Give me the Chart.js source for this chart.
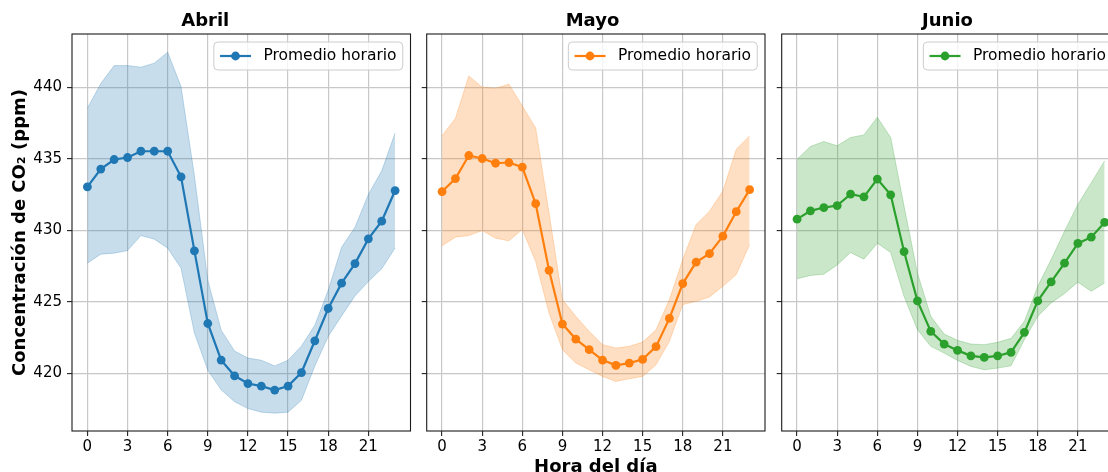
<!DOCTYPE html>
<html>
<head>
<meta charset="utf-8">
<script src="https://cdn.jsdelivr.net/npm/chart.js@4.4.1/dist/chart.umd.min.js"></script>
<style>
html,body{margin:0;padding:0;background:#fff;overflow:hidden;width:1108px;height:472px;}
#wrap{position:relative;width:1108px;height:472px;overflow:hidden;background:#fff;}
canvas{position:absolute;top:0;}
</style>
</head>
<body>
<div id="wrap">
<canvas id="c1" width="420" height="480" style="left:0px"></canvas>
<canvas id="c2" width="355" height="480" style="left:420px"></canvas>
<canvas id="c3" width="360" height="480" style="left:775px"></canvas>
</div>
<script>
// ---------- data ----------
const hours = [0,1,2,3,4,5,6,7,8,9,10,11,12,13,14,15,16,17,18,19,20,21,22,23];
const xTicks = [0,3,6,9,12,15,18,21];
const yTicks = [420,425,430,435,440];
const months = ['Abril','Mayo','Junio'];
const legendLabel = 'Promedio horario';
const xAxisTitle = 'Hora del día';
const yAxisTitle = 'Concentración de CO₂ (ppm)';

const abrilMean  = [433.03,434.27,434.94,435.08,435.52,435.52,435.52,433.73,428.55,423.47,420.91,419.81,419.27,419.09,418.81,419.09,420.04,422.26,424.52,426.29,427.66,429.39,430.63,432.77];
const abrilUpper = [438.53,440.25,441.51,441.51,441.40,441.68,442.45,440.04,433.80,426.50,423.00,421.55,421.05,420.90,420.50,420.90,421.90,423.35,425.80,428.80,430.20,432.50,434.15,436.80];
const abrilLower = [427.69,428.32,428.39,428.57,429.62,429.37,428.74,427.34,422.80,420.20,418.83,418.00,417.52,417.27,417.20,417.27,418.10,420.50,422.56,424.00,425.40,426.40,427.30,428.75];

const mayoMean  = [432.70,433.61,435.22,435.01,434.68,434.73,434.41,431.85,427.19,423.43,422.38,421.64,420.91,420.54,420.70,420.96,421.85,423.83,426.26,427.76,428.36,429.58,431.29,432.83];
const mayoUpper = [436.60,437.83,440.79,440.00,439.93,440.21,438.69,437.15,431.20,425.14,423.97,422.92,421.99,421.75,421.87,422.17,423.04,425.14,427.94,430.40,431.33,432.73,435.65,436.59];
const mayoLower = [428.90,429.51,429.62,429.97,429.44,429.25,430.05,427.80,424.20,421.64,420.70,420.23,419.77,419.42,419.60,419.77,420.58,422.22,424.79,425.02,425.33,426.07,426.89,428.99];

const junioMean  = [430.77,431.35,431.58,431.72,432.52,432.33,433.57,432.47,428.50,425.05,422.92,422.03,421.59,421.21,421.10,421.21,421.45,422.85,425.05,426.38,427.69,429.07,429.51,430.54];
const junioUpper = [434.96,435.85,436.20,435.90,436.48,436.66,437.90,436.48,431.68,427.01,423.97,422.73,422.29,422.03,421.99,422.15,422.43,423.62,426.07,427.94,429.93,431.80,433.32,434.84];
const junioLower = [426.60,426.83,426.92,427.57,428.43,427.97,429.09,428.43,425.37,423.04,421.87,421.40,420.89,420.47,420.23,420.35,420.51,422.34,423.97,424.91,425.56,426.36,425.72,426.31];

// ---------- styling ----------
Chart.defaults.font.family = "'DejaVu Sans', sans-serif";
const gridColor = '#c8c8c8';

function pts(arr){ return hours.map((h,i)=>({x:h, y:arr[i]})); }

const framePlugin = {
  id: 'frame',
  afterDatasetsDraw(chart){
    const {ctx, chartArea:a} = chart;
    ctx.save();
    ctx.strokeStyle = '#1a1a1a';
    ctx.lineWidth = 1.1;
    ctx.strokeRect(a.left, a.top, a.right - a.left, a.bottom - a.top);
    ctx.restore();
  }
};

const boxLegend = {
  id: 'boxLegend',
  afterDraw(chart){
    const ctx = chart.ctx, a = chart.chartArea;
    const ds = chart.data.datasets[2];
    const em = 15.5;
    ctx.save();
    ctx.font = em + "px 'DejaVu Sans'";
    const tw = ctx.measureText(ds.label).width;
    const W = 3.6*em + tw, H = 28;
    const x0 = a.right - 0.5*em - W, y0 = a.top + 8;
    const r = 4;
    ctx.beginPath();
    ctx.moveTo(x0+r, y0);
    ctx.lineTo(x0+W-r, y0); ctx.arcTo(x0+W, y0, x0+W, y0+r, r);
    ctx.lineTo(x0+W, y0+H-r); ctx.arcTo(x0+W, y0+H, x0+W-r, y0+H, r);
    ctx.lineTo(x0+r, y0+H); ctx.arcTo(x0, y0+H, x0, y0+H-r, r);
    ctx.lineTo(x0, y0+r); ctx.arcTo(x0, y0, x0+r, y0, r);
    ctx.closePath();
    ctx.fillStyle = 'rgba(255,255,255,0.8)'; ctx.fill();
    ctx.strokeStyle = '#cccccc'; ctx.lineWidth = 1; ctx.stroke();
    const cy = y0 + H/2;
    const hx0 = x0 + 0.4*em, hx1 = hx0 + 2*em;
    ctx.beginPath(); ctx.moveTo(hx0, cy); ctx.lineTo(hx1, cy);
    ctx.strokeStyle = ds.borderColor; ctx.lineWidth = ds.borderWidth; ctx.stroke();
    ctx.beginPath(); ctx.arc((hx0+hx1)/2, cy, ds.pointRadius, 0, 2*Math.PI);
    ctx.fillStyle = ds.borderColor; ctx.fill();
    ctx.fillStyle = '#000'; ctx.textBaseline = 'middle'; ctx.textAlign = 'left';
    ctx.fillText(ds.label, hx1 + 0.8*em, cy);
    ctx.restore();
  }
};

function makeChart(id, cfg){
  return new Chart(document.getElementById(id), {
    type: 'line',
    data: { datasets: [
      { label: 'upper', data: pts(cfg.upper), borderColor: cfg.band, backgroundColor: cfg.band,
        borderWidth: 1, pointRadius: 0, fill: '+1', tension: 0, order: 2 },
      { label: 'lower', data: pts(cfg.lower), borderColor: cfg.band, backgroundColor: cfg.band,
        borderWidth: 1, pointRadius: 0, fill: false, tension: 0, order: 1 },
      { label: legendLabel, data: pts(cfg.mean), borderColor: cfg.color, backgroundColor: cfg.color,
        borderWidth: 2.2, pointRadius: 4.4, pointHoverRadius: 4.4, pointBorderWidth: 0,
        pointBackgroundColor: cfg.color, fill: false, tension: 0, order: 0 }
    ]},
    options: {
      responsive: false, animation: false, events: [],
      layout: { padding: { left: 0, top: 0, bottom: 0, right: cfg.padRight } },
      plugins: {
        legend: { display: false }, tooltip: { enabled: false },
        title: { display: true, text: cfg.title, color: '#000',
                 font: { size: 18, weight: 'bold' }, padding: { top: 10.3, bottom: 2.1 } }
      },
      scales: {
        x: {
          type: 'linear', min: -1.15, max: 24.15,
          afterBuildTicks: s => { s.ticks = xTicks.map(v => ({ value: v })); },
          afterFit: s => { s.height = 49; },
          grid: { color: gridColor, lineWidth: 1.2, tickColor: '#222', tickLength: 5, tickWidth: 1.1 },
          border: { display: false },
          ticks: { font: { size: 15 }, color: '#000', padding: 2, maxRotation: 0, autoSkip: false },
          title: cfg.xTitle ? { display: true, text: xAxisTitle, color: '#000',
                   font: { size: 18, weight: 'bold' }, padding: { top: 0, bottom: 2.3 } } : { display: false }
        },
        y: {
          type: 'linear', min: 415.95, max: 443.72,
          afterBuildTicks: s => { s.ticks = yTicks.map(v => ({ value: v })); },
          afterFit: s => { s.width = cfg.yWidth; },
          grid: { color: gridColor, lineWidth: 1.2, tickColor: '#222', tickLength: 5, tickWidth: 1.1 },
          border: { display: false },
          ticks: { display: cfg.showY, font: { size: 15 }, color: '#000', padding: 5 },
          title: cfg.yTitle ? { display: true, text: yAxisTitle, color: '#000',
                   font: { size: 18, weight: 'bold' }, padding: { top: 9.7, bottom: 0 } } : { display: false }
        }
      }
    },
    plugins: [framePlugin, boxLegend]
  });
}

makeChart('c1', { title: months[0], mean: abrilMean, upper: abrilUpper, lower: abrilLower,
  color: '#1f77b4', band: 'rgba(31,119,180,0.25)', yWidth: 72, padRight: 9.5, showY: true, yTitle: true, xTitle: false });
makeChart('c2', { title: months[1], mean: mayoMean, upper: mayoUpper, lower: mayoLower,
  color: '#ff7f0e', band: 'rgba(255,127,14,0.25)', yWidth: 6.7, padRight: 10, showY: false, yTitle: false, xTitle: true });
makeChart('c3', { title: months[2], mean: junioMean, upper: junioUpper, lower: junioLower,
  color: '#2ca02c', band: 'rgba(44,160,44,0.25)', yWidth: 6.7, padRight: 15, showY: false, yTitle: false, xTitle: false });
</script>
</body>
</html>
